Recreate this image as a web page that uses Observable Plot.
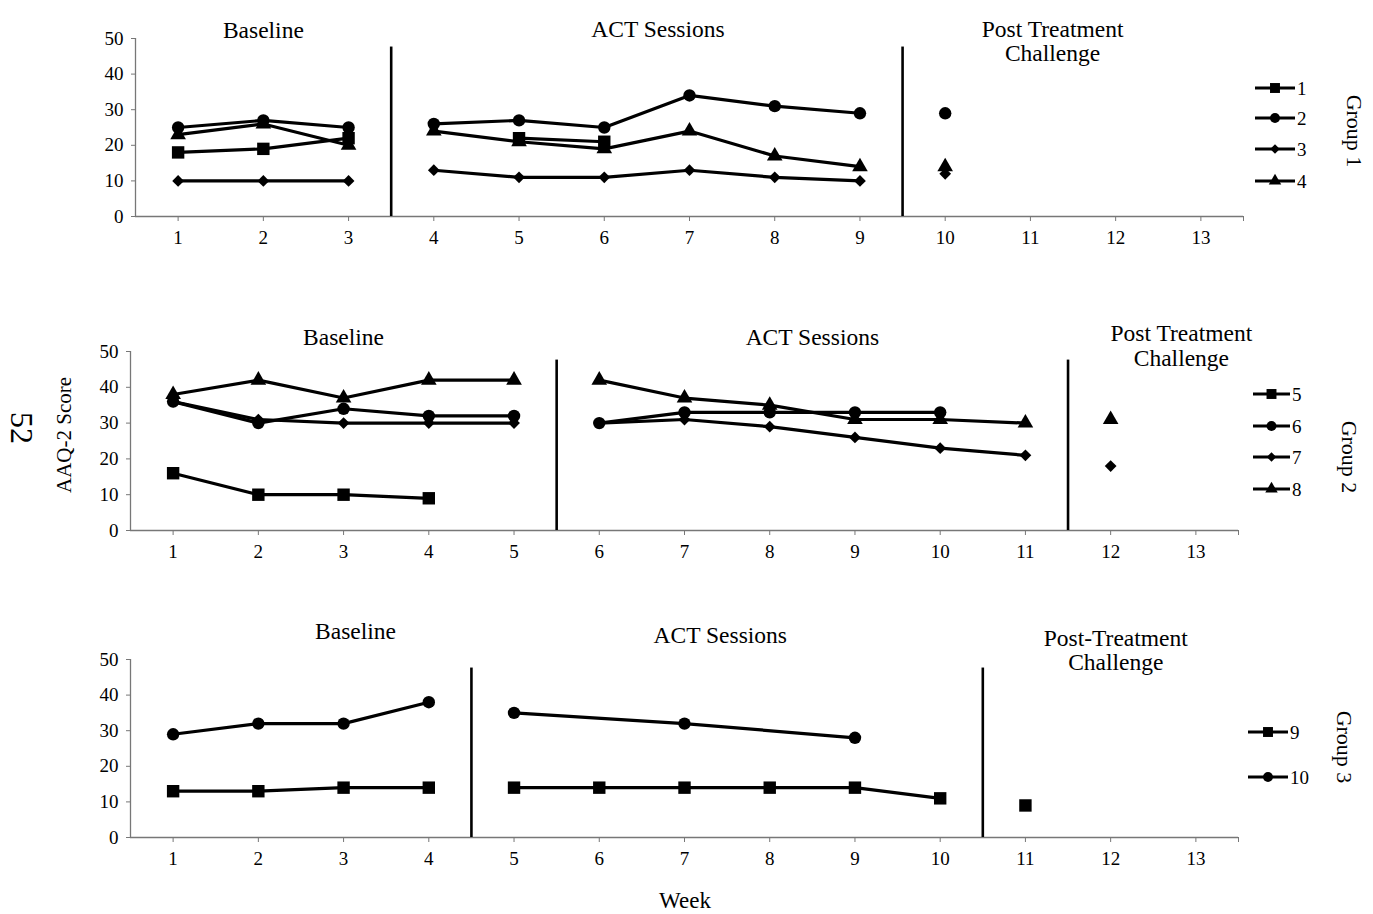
<!DOCTYPE html>
<html><head><meta charset="utf-8">
<script src="https://cdn.jsdelivr.net/npm/d3@7"></script>
<script src="https://cdn.jsdelivr.net/npm/@observablehq/plot@0.6"></script>
<style>
body{margin:0;background:#fff;}
#wrap{position:relative;width:1373px;height:914px;font-family:"Liberation Serif","Times New Roman",serif;}
#wrap > svg{position:absolute;left:0;}
#wrap svg g[aria-label*="tick label"], #wrap svg g[aria-label*="tick label"] text{font-size:19px;}
</style></head><body><div id="wrap"></div>
<script>
// ---------- data ----------
const weekTicks = [1,2,3,4,5,6,7,8,9,10,11,12,13];
const yTicks = [0,10,20,30,40,50];
const symbolOrder = ["square","circle","diamond2","triangle"];

// Group 1
const g1Names = ["1","2","3","4"];
const g1P1 = [[1,18],[2,19],[3,22],[5,22],[6,21]];
const g1P2 = [[1,25],[2,27],[3,25],[4,26],[5,27],[6,25],[7,34],[8,31],[9,29],[10,29]];
const g1P3 = [[1,10],[2,10],[3,10],[4,13],[5,11],[6,11],[7,13],[8,11],[9,10],[10,12]];
const g1P4 = [[1,23],[2,26],[3,20],[4,24],[5,21],[6,19],[7,24],[8,17],[9,14],[10,14]];
const g1Dividers = [3.5, 9.5];

// Group 2
const g2Names = ["5","6","7","8"];
const g2P5 = [[1,16],[2,10],[3,10],[4,9]];
const g2P6 = [[1,36],[2,30],[3,34],[4,32],[5,32],[6,30],[7,33],[8,33],[9,33],[10,33]];
const g2P7 = [[1,36],[2,31],[3,30],[4,30],[5,30],[6,30],[7,31],[8,29],[9,26],[10,23],[11,21],[12,18]];
const g2P8 = [[1,38],[2,42],[3,37],[4,42],[5,42],[6,42],[7,37],[8,35],[9,31],[10,31],[11,30],[12,31]];
const g2Dividers = [5.5, 11.5];

// Group 3
const g3Names = ["9","10"];
const g3P9 = [[1,13],[2,13],[3,14],[4,14],[5,14],[6,14],[7,14],[8,14],[9,14],[10,11],[11,9]];
const g3P10 = [[1,29],[2,32],[3,32],[4,38],[5,35],[7,32],[9,28]];
const g3Dividers = [4.5, 10.5];

const phaseNames = ["Baseline","ACT Sessions","Post Treatment\nChallenge"];
const phaseNamesG3 = ["Baseline","ACT Sessions","Post-Treatment\nChallenge"];

// ---------- drawing ----------
const FONT = '"Liberation Serif","Times New Roman",serif';
const symR = {square: 7.0, circle: 6.2, diamond2: 5.3, triangle: 5.8};
const wrap = document.getElementById("wrap");

function toRows(series, names, dividers) {
  const rows = [];
  series.forEach((s, i) => {
    s.forEach(([w, v]) => {
      const phase = dividers.filter(d => d < w).length;
      rows.push({name: names[i], sym: symbolOrder[i], week: w, value: v, seg: names[i] + "-" + phase});
    });
  });
  return rows;
}

function panel({series, names, dividers, phases, labelPos, top, left, right, plotH}) {
  const rows = toRows(series, names, dividers);
  const H = 270;
  const marks = [
    Plot.axisY({ticks: yTicks, tickSize: 4, tickPadding: 8, label: null, stroke: "#777", fill: "black", fontSize: 19}),
    Plot.axisX({ticks: [...weekTicks, 13.5], tickFormat: d => Number.isInteger(d) ? String(d) : "", tickSize: 5, tickPadding: 9, label: null, stroke: "#777", fill: "black", fontSize: 19}),
    Plot.ruleY([0], {stroke: "#777", strokeWidth: 1.3}),
    Plot.ruleX([0.5], {stroke: "#777", strokeWidth: 1.3}),
    Plot.ruleX(dividers, {y1: 0, y2: 47.6, stroke: "black", strokeWidth: 2.6}),
    Plot.line(rows, {x: "week", y: "value", z: "seg", stroke: "black", strokeWidth: 3.2})
  ];
  names.forEach((n, i) => {
    const sym = symbolOrder[i];
    marks.push(Plot.dot(rows.filter(r => r.name === n), {x: "week", y: "value", symbol: sym, r: symR[sym], fill: "black", stroke: "none"}));
  });
  phases.forEach((t, i) => {
    marks.push(Plot.text([t], {x: [labelPos[i][0]], text: d => d, frameAnchor: "top", dy: labelPos[i][1],
      fontSize: 23.5, lineHeight: 1.04, lineAnchor: "middle", fill: "black"}));
  });
  const svg = Plot.plot({
    width: 1373, height: H, marginTop: 38, marginBottom: H - 38 - plotH,
    marginLeft: left, marginRight: right,
    x: {domain: [0.5, 13.5]}, y: {domain: [0, 50]},
    style: {fontFamily: FONT, fontSize: "19px", color: "black", background: "transparent", overflow: "visible"},
    marks
  });
  svg.style.top = top + "px";
  wrap.appendChild(svg);
}

panel({series: [g1P1, g1P2, g1P3, g1P4], names: g1Names, dividers: g1Dividers, phases: phaseNames,
  labelPos: [[2.0, -8], [6.63, -9], [11.26, 2.5]], top: 0, left: 135, right: 130, plotH: 178});
panel({series: [g2P5, g2P6, g2P7, g2P8], names: g2Names, dividers: g2Dividers, phases: phaseNames,
  labelPos: [[3.0, -14], [8.5, -14], [12.83, -6]], top: 313, left: 130, right: 135, plotH: 179});
panel({series: [g3P9, g3P10], names: g3Names, dividers: g3Dividers, phases: phaseNamesG3,
  labelPos: [[3.14, -28], [7.42, -24], [12.06, -9.5]], top: 621, left: 130, right: 135, plotH: 178});

// ---------- overlay: legends and side labels ----------
const ov = d3.select(wrap).append("svg").attr("width", 1373).attr("height", 914)
  .style("top", "0px").style("pointer-events", "none").style("font-family", FONT);
const d3sym = {square: d3.symbolSquare, circle: d3.symbolCircle, diamond2: d3.symbolDiamond2, triangle: d3.symbolTriangle};
function legend(names, x0, x1, xl, ys) {
  names.forEach((n, i) => {
    const sym = symbolOrder[i], y = ys[i], cx = (x0 + x1) / 2, r = symR[sym] * 0.8;
    ov.append("line").attr("x1", x0).attr("x2", x1).attr("y1", y).attr("y2", y).attr("stroke", "black").attr("stroke-width", 3);
    ov.append("path").attr("transform", `translate(${cx},${y})`).attr("d", d3.symbol(d3sym[sym], Math.PI * r * r)()).attr("fill", "black");
    ov.append("text").attr("x", xl).attr("y", y).attr("dy", "0.35em").attr("font-size", 19).text(n);
  });
}
legend(g1Names, 1255, 1295, 1297, [88, 118, 149, 181]);
legend(g2Names, 1253, 1290, 1292, [394, 426, 457, 489]);
legend(g3Names, 1248, 1288, 1290, [732, 777]);
function rotText(t, x, y, angle, size) {
  ov.append("text").attr("transform", `translate(${x},${y}) rotate(${angle})`).attr("text-anchor", "middle")
    .attr("dy", "0.35em").attr("font-size", size).text(t);
}
rotText("Group 1", 1355, 131, 90, 22);
rotText("Group 2", 1350, 457, 90, 22);
rotText("Group 3", 1345, 747, 90, 22);
rotText("52", 22, 428, 90, 32);
rotText("AAQ-2 Score", 64, 435, -90, 21);
rotText("Week", 685, 900, 0, 23);
</script></body></html>
